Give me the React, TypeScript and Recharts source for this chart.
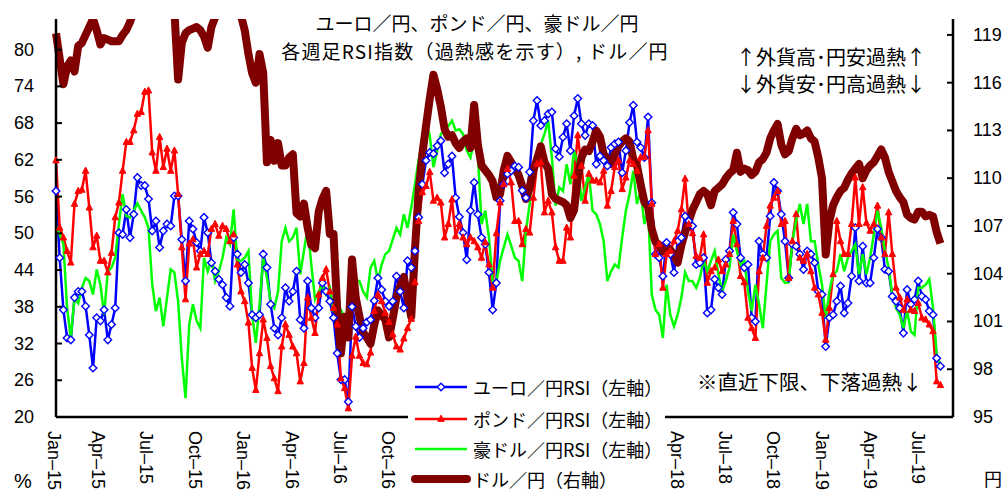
import React from "react";
import { LineChart, Line, XAxis, YAxis } from "recharts";

// weekly values, Jan-15 .. Aug-19 (240 weeks)
const eurJpyRsi = [
  56.9, 46.0, 37.5, 32.9, 32.6, 39.5, 40.5, 40.5, 38.1, 33.4,
  28.0, 36.2, 35.7, 37.5, 32.6, 35.1, 37.8, 50.1, 49.8, 53.9,
  49.3, 53.1, 59.1, 57.8, 57.8, 55.6, 50.4, 52.0, 47.7, 50.4,
  51.5, 51.2, 56.1, 56.1, 49.0, 42.2, 52.0, 50.7, 48.5, 47.1,
  52.6, 50.1, 45.2, 43.8, 42.5, 41.6, 39.5, 38.1, 49.3, 46.6,
  43.6, 44.9, 41.9, 36.7, 36.2, 36.7, 46.6, 44.4, 38.4, 34.5,
  33.4, 36.2, 41.1, 38.9, 40.5, 43.8, 35.9, 34.5, 42.2, 37.8,
  36.2, 37.8, 41.9, 40.5, 38.9, 36.2, 30.4, 26.1, 26.1, 22.5,
  38.0, 34.8, 33.0, 34.5, 35.5, 35.9, 39.0, 42.7, 40.8, 38.9,
  38.1, 38.9, 43.0, 40.5, 37.8, 45.5, 44.4, 47.1, 52.6, 58.0,
  61.9, 63.2, 63.0, 64.3, 65.1, 59.9, 61.3, 62.6, 55.8, 52.7,
  50.1, 45.7, 53.7, 58.3, 53.1, 49.3, 48.2, 43.6, 37.5, 41.9,
  55.3, 58.0, 59.7, 60.2, 61.0, 60.8, 57.0, 55.8, 60.0, 68.4,
  71.7, 67.6, 68.4, 69.5, 69.8, 63.8, 62.5, 65.7, 67.9, 63.5,
  69.2, 72.0, 67.9, 66.0, 67.9, 67.6, 61.3, 62.6, 61.9, 61.0,
  64.0, 64.6, 64.9, 59.9, 63.5, 68.1, 70.9, 64.9, 64.0, 62.4,
  69.0, 55.0, 46.6, 46.0, 43.0, 48.5, 46.6, 43.6, 48.7, 49.3,
  52.8, 52.0, 51.2, 44.9, 45.2, 46.0, 37.0, 37.5, 42.5, 41.1,
  40.0, 45.7, 47.1, 53.4, 51.5, 46.0, 44.4, 44.9, 36.2, 35.6,
  48.7, 46.6, 46.0, 52.8, 58.3, 56.9, 53.1, 48.7, 42.7, 48.2,
  47.9, 46.6, 44.1, 47.1, 46.6, 45.2, 40.5, 40.0, 31.5, 36.2,
  36.7, 38.9, 41.4, 37.0, 38.6, 43.0, 50.9, 42.2, 47.9, 41.9,
  41.9, 46.0, 50.7, 49.3, 44.1, 43.8, 39.7, 38.9, 37.8, 33.7,
  40.8, 38.4, 39.2, 42.2, 39.7, 39.2, 37.3, 36.7, 29.6, 28.3,
];

const gbpJpyRsi = [
  61.9, 50.9, 49.3, 47.1, 45.2, 54.8, 56.9, 57.1, 60.2, 54.2,
  47.7, 49.6, 45.5, 45.5, 43.6, 46.8, 52.6, 55.0, 60.2, 64.9,
  64.9, 66.8, 69.5, 69.8, 73.1, 73.3, 63.2, 60.2, 65.7, 60.8,
  63.8, 60.2, 63.5, 56.4, 47.7, 39.2, 48.3, 49.0, 44.4, 46.6,
  47.1, 46.6, 50.7, 51.5, 49.6, 51.2, 50.7, 48.7, 49.8, 44.9,
  40.5, 38.9, 35.4, 28.0, 24.4, 30.4, 35.9, 32.9, 28.3, 26.3,
  24.2, 31.5, 35.1, 33.4, 31.5, 30.4, 25.8, 28.8, 39.5, 36.2,
  33.7, 40.0, 42.7, 44.1, 40.5, 37.8, 35.1, 26.3, 24.7, 21.4,
  30.0, 33.1, 30.0, 28.8, 28.6, 30.5, 37.3, 40.0, 38.9, 37.0,
  35.5, 33.5, 31.5, 31.0, 32.8, 34.5, 36.0, 42.0, 52.0, 56.7,
  57.7, 60.0, 55.3, 55.8, 55.0, 49.3, 51.5, 55.5, 49.5, 51.5,
  49.3, 48.2, 49.3, 48.7, 47.7, 46.0, 48.5, 44.9, 41.1, 50.0,
  55.0, 58.0, 60.5, 58.3, 52.0, 52.0, 48.2, 50.7, 50.1, 55.8,
  61.3, 61.6, 53.4, 55.3, 53.4, 47.7, 45.5, 45.5, 50.9, 49.3,
  59.4, 66.0, 61.0, 55.3, 59.7, 58.6, 58.6, 58.3, 60.2, 54.5,
  56.9, 60.8, 61.9, 57.2, 59.1, 61.9, 61.3, 60.2, 62.4, 62.5,
  66.8, 54.8, 46.6, 48.2, 41.1, 46.6, 47.1, 48.7, 50.4, 53.9,
  58.9, 51.5, 50.0, 46.3, 46.0, 49.8, 41.9, 43.8, 44.4, 45.7,
  43.8, 44.9, 46.6, 52.0, 48.2, 43.0, 42.0, 36.2, 34.5, 32.9,
  43.8, 46.0, 51.2, 54.5, 55.8, 56.9, 51.5, 52.0, 42.7, 48.7,
  53.1, 46.0, 45.5, 46.6, 43.8, 41.1, 40.0, 37.0, 32.6, 37.8,
  43.3, 52.0, 48.7, 46.6, 46.6, 51.5, 59.1, 51.5, 57.5, 51.7,
  50.4, 51.5, 54.5, 49.3, 46.6, 53.4, 46.6, 41.1, 39.5, 37.5,
  39.2, 37.5, 37.3, 38.6, 36.2, 35.9, 35.1, 34.0, 25.8, 25.2,
];

const audJpyRsi = [
  51.2, 49.8, 48.2, 37.8, 32.9, 39.5, 38.6, 41.1, 42.7, 42.2,
  40.0, 44.1, 41.6, 36.7, 43.8, 44.4, 46.0, 51.5, 56.4, 52.8,
  52.6, 53.7, 54.9, 53.7, 52.6, 50.9, 41.6, 37.3, 39.5, 34.8,
  39.5, 44.1, 43.6, 38.9, 29.6, 23.1, 35.1, 38.4, 35.7, 34.5,
  46.0, 43.8, 45.7, 42.2, 43.8, 46.0, 49.3, 48.2, 53.9, 45.5,
  45.5, 46.0, 47.1, 36.7, 32.1, 38.4, 46.0, 42.7, 38.9, 37.8,
  40.5, 48.7, 50.9, 48.7, 49.3, 50.9, 43.3, 47.1, 50.9, 44.9,
  39.2, 40.5, 41.6, 40.0, 41.1, 37.3, 37.3, 37.5, 36.2, 37.3,
  45.0, 42.2, 42.2, 40.5, 39.5, 44.4, 45.5, 42.2, 44.9, 46.6,
  47.1, 49.0, 50.9, 49.8, 53.1, 50.9, 54.2, 58.0, 62.0, 65.1,
  67.9, 66.0, 60.8, 63.5, 66.2, 66.8, 67.5, 68.4, 66.8, 67.0,
  66.2, 63.5, 62.4, 65.1, 62.9, 51.5, 53.7, 49.3, 42.2, 42.0,
  45.5, 47.7, 49.8, 48.0, 46.0, 45.5, 42.2, 50.4, 54.8, 60.8,
  62.4, 64.5, 66.2, 68.4, 62.4, 54.5, 57.5, 56.9, 61.3, 58.0,
  63.5, 61.3, 55.3, 57.5, 59.7, 53.7, 53.1, 51.5, 48.7, 42.2,
  43.8, 44.9, 44.4, 49.3, 53.7, 56.4, 60.2, 54.8, 56.9, 51.5,
  54.0, 40.0, 37.5, 36.7, 32.9, 41.6, 36.7, 34.8, 36.7, 39.5,
  43.6, 42.2, 42.2, 41.1, 42.7, 45.7, 43.8, 45.5, 47.1, 43.3,
  40.5, 42.2, 44.4, 49.8, 47.1, 44.9, 45.5, 40.5, 37.3, 41.6,
  38.4, 34.5, 41.6, 48.7, 49.8, 50.4, 42.7, 41.9, 42.0, 48.7,
  52.0, 54.8, 51.5, 54.8, 48.7, 48.7, 44.9, 41.6, 36.2, 40.5,
  43.3, 43.8, 46.6, 43.8, 46.0, 47.1, 48.2, 43.3, 46.6, 43.3,
  46.0, 49.8, 53.7, 50.9, 47.1, 44.4, 40.0, 37.8, 36.7, 34.5,
  37.3, 34.0, 33.4, 41.1, 41.1, 41.6, 42.5, 37.8, 30.2, 28.5,
];

const usdJpy = [
  119.1, 117.5, 115.9, 117.0, 117.4, 116.7, 118.3, 118.5, 119.0, 119.5,
  120.0, 119.3, 118.4, 118.8, 118.7, 118.6, 118.6, 118.6, 119.0, 119.3,
  119.8, 120.5, 121.5, 122.5, 123.5, 123.0, 122.5, 121.5, 122.5, 123.5,
  123.5, 123.0, 120.5, 116.2, 118.5, 119.1, 119.3, 119.4, 119.5, 119.3,
  118.9, 118.2, 119.5, 120.1, 121.5, 122.0, 122.5, 122.0, 121.5, 120.8,
  120.2, 119.3, 117.8, 116.6, 116.0, 117.8, 116.6, 111.0, 112.4, 111.1,
  112.2, 110.8, 110.8, 111.3, 111.5, 107.8, 107.6, 108.4, 106.9, 105.8,
  105.6, 107.9, 108.7, 109.2, 106.5, 106.5, 101.7, 99.0, 101.3, 100.0,
  104.9, 102.5, 101.3, 100.3, 100.0, 99.6, 100.8, 101.7, 101.4, 101.1,
  100.0, 101.2, 102.5, 103.2, 103.8, 102.5, 101.3, 105.5, 109.2, 111.5,
  113.3, 115.0, 116.5, 115.6, 114.5, 113.1, 112.6, 112.7, 112.2, 111.9,
  112.3, 112.5, 111.9, 114.6, 112.1, 110.8, 110.5, 110.2, 109.8, 108.8,
  109.0, 110.5, 111.4, 111.0, 110.6, 110.2, 109.5, 108.7, 109.4, 110.5,
  111.2, 112.0, 111.0, 110.6, 109.0, 108.7, 108.6, 108.5, 108.3, 107.5,
  108.0, 110.0, 111.3, 111.8, 111.7, 112.3, 113.0, 112.6, 111.5, 111.2,
  110.9, 111.5, 112.0, 112.3, 112.5, 112.3, 111.2, 110.8, 109.6, 108.5,
  108.2, 106.8, 106.0, 105.8, 105.4, 105.7, 105.5, 105.2, 104.7, 105.8,
  106.6, 107.3, 108.0, 108.5, 109.0, 109.2, 109.0, 108.3, 109.2, 109.4,
  109.6, 110.0, 110.3, 110.5, 111.6, 110.4, 110.6, 110.5, 110.2, 110.4,
  111.0, 111.2, 111.6, 112.5, 113.0, 113.4, 112.1, 111.5, 111.7, 112.5,
  113.1, 112.7, 112.8, 113.0, 112.5, 112.3, 111.3, 110.0, 105.2, 107.3,
  108.3, 108.8, 109.2, 109.4, 109.9, 110.3, 110.6, 110.9, 110.0, 110.5,
  110.8, 111.0, 111.4, 111.8, 111.3, 110.4, 109.8, 109.2, 108.8, 108.5,
  107.7, 107.5, 107.4, 107.9, 107.9, 107.6, 107.7, 107.6, 106.6, 105.9,
];

const quarterLabels = [
  "Jan–15", "Apr–15", "Jul–15", "Oct–15",
  "Jan–16", "Apr–16", "Jul–16", "Oct–16",
  "Jan–17", "Apr–17", "Jul–17", "Oct–17",
  "Jan–18", "Apr–18", "Jul–18", "Oct–18",
  "Jan–19", "Apr–19", "Jul–19",
];
// week index where each quarter starts
const quarterPos = [
  0, 11.9, 24.9, 38, 51.2, 64.2, 77.2, 90.3, 103.4, 116.3,
  129.3, 142.4, 155.5, 168.3, 181.3, 194.4, 207.5, 220.5, 233.4,
];
const leftTicks = [20, 26, 32, 38, 44, 50, 56, 62, 68, 74, 80];
const rightTicks = [95, 98, 101, 104, 107, 110, 113, 116, 119];

const data = eurJpyRsi.map((v, i) => ({
  i,
  eur: v,
  gbp: gbpJpyRsi[i],
  aud: audJpyRsi[i],
  usd: usdJpy[i],
}));

const BLUE = "#0000FF";
const RED = "#FF0000";
const GREEN = "#00FF00";
const MAROON = "#800000";
const LATIN = '"Liberation Sans", Arial, sans-serif';
const CJK = '"Noto Sans CJK JP", sans-serif';

const Diamond = (p: any) => {
  const { cx, cy, index } = p;
  if (cx == null || cy == null) return <g key={`d${index}`} />;
  const r = 3.8;
  return (
    <path
      key={`d${index}`}
      d={`M${cx},${cy - r}L${cx + r},${cy}L${cx},${cy + r}L${cx - r},${cy}Z`}
      fill="#fff"
      stroke={BLUE}
      strokeWidth={1.4}
    />
  );
};

const Tri = (p: any) => {
  const { cx, cy, index } = p;
  if (cx == null || cy == null) return <g key={`t${index}`} />;
  return (
    <path
      key={`t${index}`}
      d={`M${cx},${cy - 3.8}L${cx + 3.2},${cy + 2.4}L${cx - 3.2},${cy + 2.4}Z`}
      fill={RED}
      stroke={RED}
      strokeWidth={1}
    />
  );
};

const LeftTick = ({ x, y, payload }: any) => (
  <g>
    <line x1={x} x2={x + 6} y1={y} y2={y} stroke="#000" strokeWidth={2} />
    <text x={x - 22} y={y} textAnchor="end" dominantBaseline="central"
      fontFamily={LATIN} fontSize={18} fill="#000">
      {payload.value}
    </text>
  </g>
);

const RightTick = ({ x, y, payload }: any) => (
  <g>
    <line x1={x - 6} x2={x} y1={y} y2={y} stroke="#000" strokeWidth={2} />
    <text x={x + 20} y={y} textAnchor="start" dominantBaseline="central"
      fontFamily={LATIN} fontSize={18} fill="#000">
      {payload.value}
    </text>
  </g>
);

const BottomTick = ({ x, y, payload }: any) => {
  const k = quarterPos.indexOf(payload.value);
  return (
    <text
      transform={`translate(${x - 2},${y + 14}) rotate(90)`}
      dominantBaseline="central"
      fontFamily={LATIN}
      fontSize={18}
      fill="#000"
    >
      {quarterLabels[k]}
    </text>
  );
};

const Note = ({ left, top, size, font, center, spacing, children }: any) => (
  <div
    style={{
      position: "absolute",
      left,
      top,
      transform: center ? "translate(-50%,-50%)" : "translateY(-50%)",
      fontSize: size,
      fontFamily: font || CJK,
      letterSpacing: spacing || 0,
      whiteSpace: "nowrap",
      lineHeight: 1,
      color: "#000",
    }}
  >
    {children}
  </div>
);

const legendRows = [
  { name: "ユーロ／円RSI（左軸）", color: BLUE, w: 2.5, mark: "diamond" },
  { name: "ポンド／円RSI（左軸）", color: RED, w: 2.5, mark: "tri" },
  { name: "豪ドル／円RSI（左軸）", color: GREEN, w: 2.5, mark: "" },
  { name: "ドル／円（右軸）", color: MAROON, w: 8, mark: "" },
];
const legendY = [15, 47, 77, 107];

export default function App() {
  return (
    <div style={{ position: "absolute", left: 0, top: 0, width: 1005, height: 491, background: "#fff", overflow: "hidden" }}>
      <LineChart width={1005} height={491} data={data}
        margin={{ top: 19, right: 0, left: 0, bottom: 0 }}>
        <XAxis dataKey="i" type="number" domain={[0, 242.4]} ticks={quarterPos}
          interval={0} height={74} tickSize={0} tickMargin={0} tickLine={false}
          axisLine={{ stroke: "#000", strokeWidth: 2.5 }} tick={<BottomTick />} />
        <YAxis yAxisId="L" orientation="left" domain={[20, 85]} ticks={leftTicks}
          interval={0} width={56} tickSize={0} tickMargin={0} tickLine={false}
          axisLine={{ stroke: "#000", strokeWidth: 2.5 }} tick={<LeftTick />} />
        <YAxis yAxisId="R" orientation="right" domain={[95, 120]} ticks={rightTicks}
          allowDataOverflow interval={0} width={52} tickSize={0} tickMargin={0}
          tickLine={false} axisLine={{ stroke: "#000", strokeWidth: 2.5 }}
          tick={<RightTick />} />
        <Line yAxisId="L" type="linear" dataKey="eur" stroke={BLUE} strokeWidth={2.5}
          dot={Diamond} activeDot={false} isAnimationActive={false} />
        <Line yAxisId="L" type="linear" dataKey="gbp" stroke={RED} strokeWidth={2.5}
          dot={Tri} activeDot={false} isAnimationActive={false} />
        <Line yAxisId="L" type="linear" dataKey="aud" stroke={GREEN} strokeWidth={2.5}
          dot={false} activeDot={false} isAnimationActive={false} />
        <Line yAxisId="R" type="linear" dataKey="usd" stroke={MAROON} strokeWidth={8}
          strokeLinejoin="round" dot={false} activeDot={false} isAnimationActive={false} />
      </LineChart>

      <Note left={477} top={22} size={19} center>ユーロ／円、ポンド／円、豪ドル／円</Note>
      <Note left={475} top={50} size={19} spacing={1.2} center>各週足RSI指数（過熱感を示す）, ドル／円</Note>
      <Note left={736} top={57} size={20}>↑外貨高･円安過熱↑</Note>
      <Note left={736} top={84} size={20}>↓外貨安･円高過熱↓</Note>
      <Note left={697} top={381} size={20.5}>※直近下限、下落過熱↓</Note>
      <Note left={14} top={481} size={20} font={LATIN}>%</Note>
      <Note left={984} top={478} size={18}>円</Note>

      <div style={{ position: "absolute", left: 408, top: 372, width: 257, height: 119, background: "#fff" }}>
        {legendRows.map((r, k) => (
          <div key={r.name} style={{ position: "absolute", left: 0, top: legendY[k] - 15, height: 30, width: 257 }}>
            <svg width={64} height={30} style={{ position: "absolute", left: 0, top: 0 }}>
              <line x1={7} x2={59} y1={15} y2={15} stroke={r.color} strokeWidth={r.w}
                strokeLinecap={r.w > 4 ? "round" : "butt"} />
              {r.mark === "diamond" && (
                <path d="M33,11.2L36.8,15L33,18.8L29.2,15Z" fill="#fff" stroke={BLUE} strokeWidth={1.4} />
              )}
              {r.mark === "tri" && (
                <path d="M33,11.2L36.2,17.4L29.8,17.4Z" fill={RED} stroke={RED} />
              )}
            </svg>
            <div style={{ position: "absolute", left: 65, top: 15, transform: "translateY(-50%)",
              fontFamily: CJK, fontSize: 18, lineHeight: 1, whiteSpace: "nowrap", color: "#000" }}>
              {r.name}
            </div>
          </div>
        ))}
      </div>
    </div>
  );
}
